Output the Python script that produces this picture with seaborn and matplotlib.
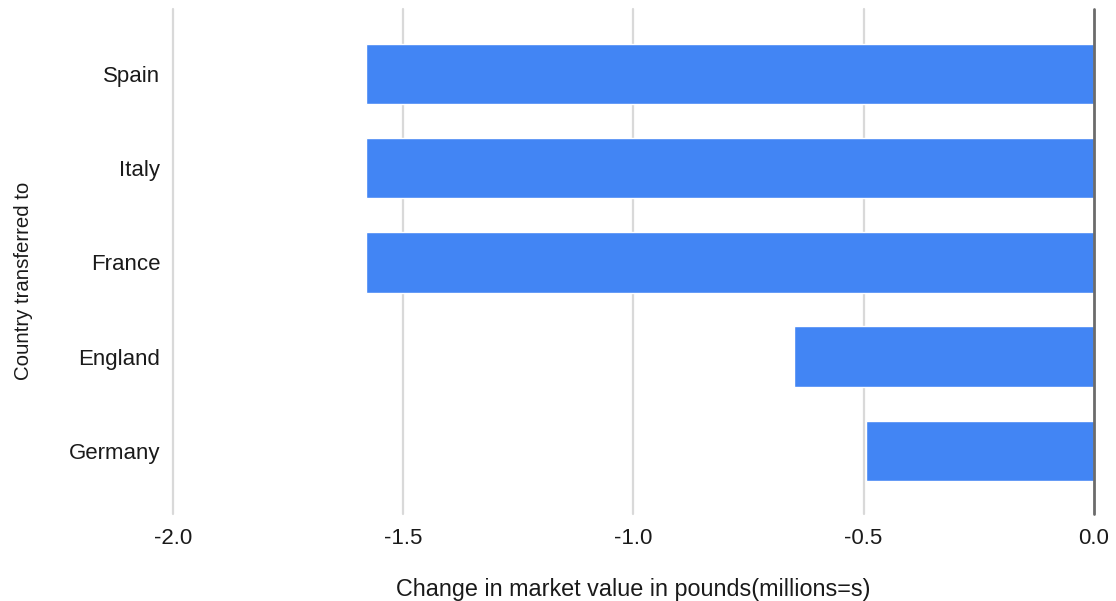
import seaborn as sns
import pandas as pd
import matplotlib.pyplot as plt

countries = ["Spain", "Italy", "France", "England", "Germany"]
change = [-1.58, -1.58, -1.58, -0.65, -0.495]
xticks = [-2.0, -1.5, -1.0, -0.5, 0.0]

df = pd.DataFrame({"country": countries, "change": change})

sns.set_style("white")
plt.rcParams['font.family'] = ['Liberation Sans', 'DejaVu Sans']

fig = plt.figure(figsize=(11.16, 6.01), dpi=100)
ax = fig.add_axes([0.155, 0.145, 0.825, 0.84])

sns.barplot(data=df, x="change", y="country", orient="h", color="#4285F4",
            saturation=1, width=0.64, ax=ax)

ax.set_xlim(-2.0, 0.0)
ax.set_ylim(4.67, -0.69)
ax.set_xticks(xticks)
ax.set_xticklabels([f"{t:.1f}" for t in xticks])

# vertical gridlines, zero line darker
for t in xticks[:-1]:
    ax.axvline(t, color="#d9d9d9", lw=1.6, zorder=0, clip_on=False)
ax.axvline(0.0, color="#6b6b6b", lw=2, zorder=3, clip_on=False)

for s in ax.spines.values():
    s.set_visible(False)

fs = 16
ax.tick_params(axis="x", length=0, pad=10, labelsize=fs, labelcolor="#1a1a1a")
ax.tick_params(axis="y", length=0, pad=9, labelsize=fs, labelcolor="#1a1a1a")

ax.set_xlabel("Change in market value in pounds(millions=s)", fontsize=16.8, color="#1a1a1a")
ax.set_ylabel("Country transferred to", fontsize=14.7, color="#1a1a1a")
ax.xaxis.set_label_coords(0.5, -0.128)
ax.yaxis.set_label_coords(-0.152, 0.461)

fig.savefig("out.png", dpi=100)
